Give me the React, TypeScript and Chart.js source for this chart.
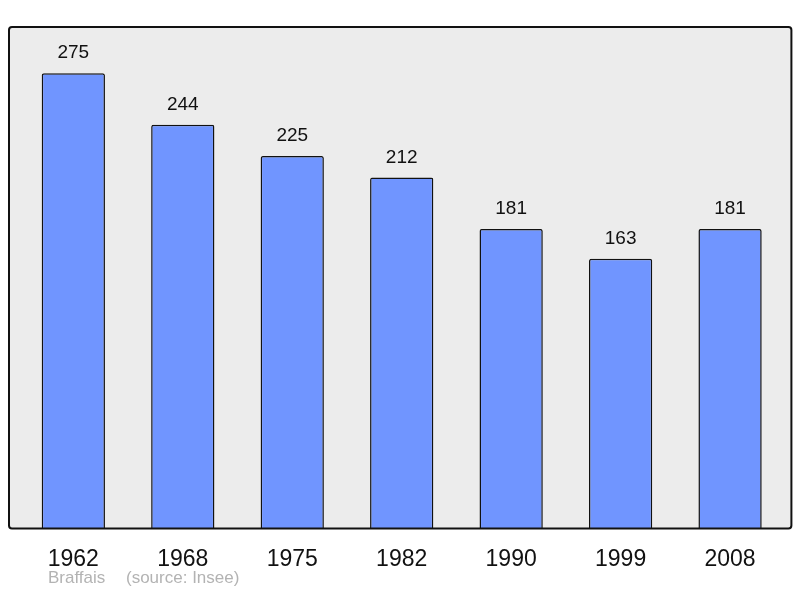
import React, { useEffect, useRef } from "react";
import { Chart, registerables } from "chart.js";

Chart.register(...registerables);

const years = ["1962", "1968", "1975", "1982", "1990", "1999", "2008"];
const population = [275, 244, 225, 212, 181, 163, 181];
const footerName = "Braffais";
const footerSource = "(source: Insee)";

const FONT = "'Liberation Sans', Arial, sans-serif";

const framePlugin = {
  id: "frame",
  beforeDatasetsDraw(chart: any) {
    const { ctx, chartArea } = chart;
    const l = chartArea.left - 9.6;
    const r = chartArea.right + 6.6;
    const t = chartArea.top;
    const b = chartArea.bottom;
    ctx.save();
    ctx.beginPath();
    ctx.roundRect(l, t, r - l, b - t, 3);
    ctx.fillStyle = "#ececec";
    ctx.fill();
    ctx.restore();
  },
  afterDatasetsDraw(chart: any) {
    const { ctx, chartArea } = chart;
    const l = chartArea.left - 9.6;
    const r = chartArea.right + 6.6;
    const t = chartArea.top;
    const b = chartArea.bottom;
    ctx.save();
    ctx.beginPath();
    ctx.roundRect(l, t, r - l, b - t, 3);
    ctx.lineWidth = 2;
    ctx.strokeStyle = "#111";
    ctx.stroke();
    // value labels
    const meta = chart.getDatasetMeta(0);
    ctx.fillStyle = "#111";
    ctx.font = `19px ${FONT}`;
    ctx.textAlign = "center";
    ctx.textBaseline = "alphabetic";
    meta.data.forEach((bar: any, i: number) => {
      ctx.fillText(String(chart.data.datasets[0].data[i]), bar.x, bar.y - 15);
    });
    // footer
    ctx.fillStyle = "#b3b3b3";
    ctx.font = `17px ${FONT}`;
    ctx.textAlign = "left";
    ctx.fillText(footerName, 48, 583);
    ctx.fillText(footerSource, 126, 583);
    ctx.restore();
  },
};

export default function App() {
  const ref = useRef<HTMLCanvasElement>(null);
  useEffect(() => {
    document.body.style.margin = "0";
    const chart = new Chart(ref.current!, {
      type: "bar",
      data: {
        labels: years,
        datasets: [
          {
            data: population,
            backgroundColor: "#7095ff",
            borderColor: "#111",
            borderWidth: 1.5,
            borderRadius: 2,
            borderSkipped: "bottom",
            categoryPercentage: 1,
            barPercentage: 0.578,
          },
        ],
      },
      options: {
        animation: false,
        responsive: false,
        layout: { padding: { left: 18.6, right: 15.2, top: 27, bottom: 8 } },
        plugins: { legend: { display: false }, tooltip: { enabled: false } },
        scales: {
          x: {
            grid: { display: false, drawTicks: false },
            border: { display: false },
            ticks: { color: "#111", font: { size: 23, family: FONT }, padding: 17 },
          },
          y: {
            display: false,
            min: 0,
            max: 303,
          },
        },
      },
      plugins: [framePlugin],
    });
    return () => chart.destroy();
  }, []);
  return (
    <div style={{ width: 800, height: 598 }}>
      <canvas ref={ref} width={800} height={598} />
    </div>
  );
}
